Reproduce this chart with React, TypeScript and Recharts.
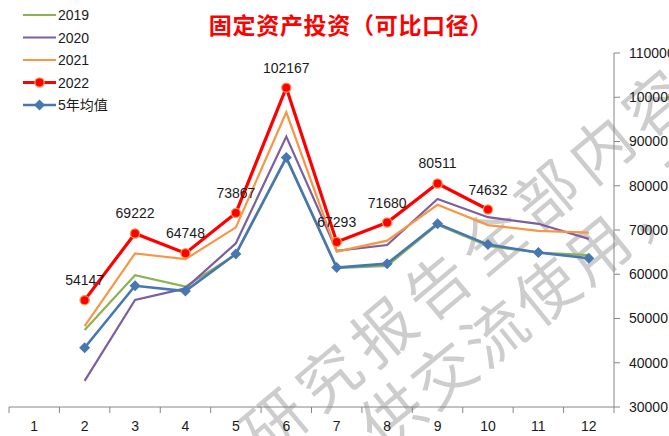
import React from 'react';
import { ComposedChart, Line, XAxis, YAxis } from 'recharts';

// 月份 / 各年度数据（亿元）
const months = ['1', '2', '3', '4', '5', '6', '7', '8', '9', '10', '11', '12'];
const y2019 = [null, 47400, 59800, 57200, 64500, 86200, 61400, 61900, 71200, 66400, 64900, 64300];
const y2020 = [null, 35900, 54200, 56800, 67000, 91100, 65300, 66600, 77000, 72900, 71400, 68000];
const y2021 = [null, 48300, 64700, 63400, 70600, 96600, 65100, 67600, 75700, 71100, 69800, 69400];
const y2022 = [null, 54147, 69222, 64748, 73867, 102167, 67293, 71680, 80511, 74632, null, null];
const avg5 = [null, 43400, 57400, 56200, 64600, 86400, 61500, 62400, 71400, 66700, 64900, 63600];
const yTicks = [30000, 40000, 50000, 60000, 70000, 80000, 90000, 100000, 110000];

const data = months.map((m, i) => ({
    month: m,
    y2019: y2019[i],
    y2020: y2020[i],
    y2021: y2021[i],
    y2022: y2022[i],
    avg5: avg5[i],
}));

const W = 669;
const H = 436;
const MARGIN = { top: 53, right: 0, bottom: 0, left: 9 };
const YAXIS_W = 55;
const BAND = (W - MARGIN.left - MARGIN.right - YAXIS_W) / months.length;
const FONT = "'Liberation Sans', 'Noto Sans CJK SC', sans-serif";
const AXIS = '#868686';

const series = [
    { key: 'y2019', name: '2019', color: '#8DB255', width: 2.2, mark: 'none' },
    { key: 'y2020', name: '2020', color: '#7B5F9E', width: 2.2, mark: 'none' },
    { key: 'y2021', name: '2021', color: '#F79646', width: 2.2, mark: 'none' },
    { key: 'y2022', name: '2022', color: '#FF0000', width: 3.2, mark: 'circle' },
    { key: 'avg5', name: '5年均值', color: '#4677B0', width: 2.6, mark: 'diamond' },
];

function Mark({ type, cx, cy, color }: { type: string; cx: number; cy: number; color: string }) {
    if (type === 'circle') {
        return <circle cx={cx} cy={cy} r={4.6} fill="#FF0000" stroke="#F79646" strokeWidth={1.3} />;
    }
    if (type === 'diamond') {
        const r = 5.5;
        return <polygon points={`${cx},${cy - r} ${cx + r},${cy} ${cx},${cy + r} ${cx - r},${cy}`} fill={color} />;
    }
    return null;
}

const makeDot = (type: string, color: string) => (props: any) => {
    const { cx, cy, index, value } = props;
    if (value == null || cy == null || isNaN(cy)) return <g key={`d-${type}-${index}`} />;
    return (
        <g key={`d-${type}-${index}`}>
            <Mark type={type} cx={cx} cy={cy} color={color} />
        </g>
    );
};

const renderValueLabel = (props: any) => {
    const { x, y, value, index } = props;
    if (value == null || y == null || isNaN(y)) return <g key={`l-${index}`} />;
    return (
        <text key={`l-${index}`} x={x} y={y - 20} textAnchor="middle" dominantBaseline="central"
            fontSize={14} fontFamily={FONT} fill="#1a1a1a">
            {value}
        </text>
    );
};

const XTick = (props: any) => {
    const { x, y, payload, index } = props;
    return (
        <g>
            <line x1={x - BAND / 2} y1={y} x2={x - BAND / 2} y2={y + 6} stroke={AXIS} />
            {index === months.length - 1 && (
                <line x1={x + BAND / 2} y1={y} x2={x + BAND / 2} y2={y + 6} stroke={AXIS} />
            )}
            <text x={x} y={y + 19} textAnchor="middle" dominantBaseline="central"
                fontSize={14} fontFamily={FONT} fill="#1a1a1a">
                {payload.value}
            </text>
        </g>
    );
};

function Backdrop() {
    return (
        <svg width={W} height={H} style={{ position: 'absolute', left: 0, top: 0 }}>
            {/* 水印 */}
            <g fill="#cdcdcd" fontFamily="'Noto Sans CJK SC', sans-serif" fontWeight={400} fontSize={62}>
                <text transform="translate(272,420) rotate(-40)" x={-31} dominantBaseline="central" letterSpacing={9}>
                    研究报告全部内容不得转载
                </text>
                <text transform="translate(390,413) rotate(-39)" x={-31} dominantBaseline="central" letterSpacing={4}>
                    供交流使用，不得
                </text>
            </g>
            {/* 标题 */}
            <text x={351} y={24} textAnchor="middle" dominantBaseline="central" fill="#FF0000"
                fontFamily="'Noto Sans CJK SC', serif" fontWeight={700} fontSize={23} letterSpacing={0.7}>
                固定资产投资（可比口径）
            </text>
            {/* 图例 */}
            {series.map((s, i) => {
                const cy = 15 + i * 22.5;
                return (
                    <g key={s.key}>
                        <line x1={23} y1={cy} x2={56} y2={cy} stroke={s.color} strokeWidth={s.width} />
                        <Mark type={s.mark} cx={39.5} cy={cy} color={s.color} />
                        <text x={58} y={cy} dominantBaseline="central" fontSize={14} fontFamily={FONT} fill="#1a1a1a">
                            {s.name}
                        </text>
                    </g>
                );
            })}
        </svg>
    );
}

export default function App() {
    return (
        <div style={{ position: 'absolute', left: 0, top: 0, width: W, height: H, background: '#fff', overflow: 'hidden' }}>
            <Backdrop />
            <div style={{ position: 'absolute', left: 0, top: 0 }}>
                <ComposedChart width={W} height={H} data={data} margin={MARGIN}>
                    <XAxis
                        dataKey="month"
                        height={29}
                        interval={0}
                        padding={{ left: BAND / 2, right: BAND / 2 }}
                        tickSize={0}
                        tickMargin={0}
                        tickLine={false}
                        axisLine={{ stroke: AXIS }}
                        tick={<XTick />}
                    />
                    <YAxis
                        orientation="right"
                        width={YAXIS_W}
                        domain={[30000, 110000]}
                        ticks={yTicks}
                        interval={0}
                        tickSize={6}
                        tickMargin={9}
                        axisLine={{ stroke: AXIS }}
                        tickLine={{ stroke: AXIS }}
                        tick={{ fontSize: 14, fontFamily: FONT, fill: '#1a1a1a', textAnchor: 'start' }}
                    />
                    {series.map((s) => (
                        <Line
                            key={s.key}
                            dataKey={s.key}
                            name={s.name}
                            type="linear"
                            stroke={s.color}
                            strokeWidth={s.width}
                            dot={s.mark === 'none' ? false : makeDot(s.mark, s.color)}
                            activeDot={false}
                            label={s.key === 'y2022' ? renderValueLabel : undefined}
                            isAnimationActive={false}
                        />
                    ))}
                </ComposedChart>
            </div>
        </div>
    );
}
